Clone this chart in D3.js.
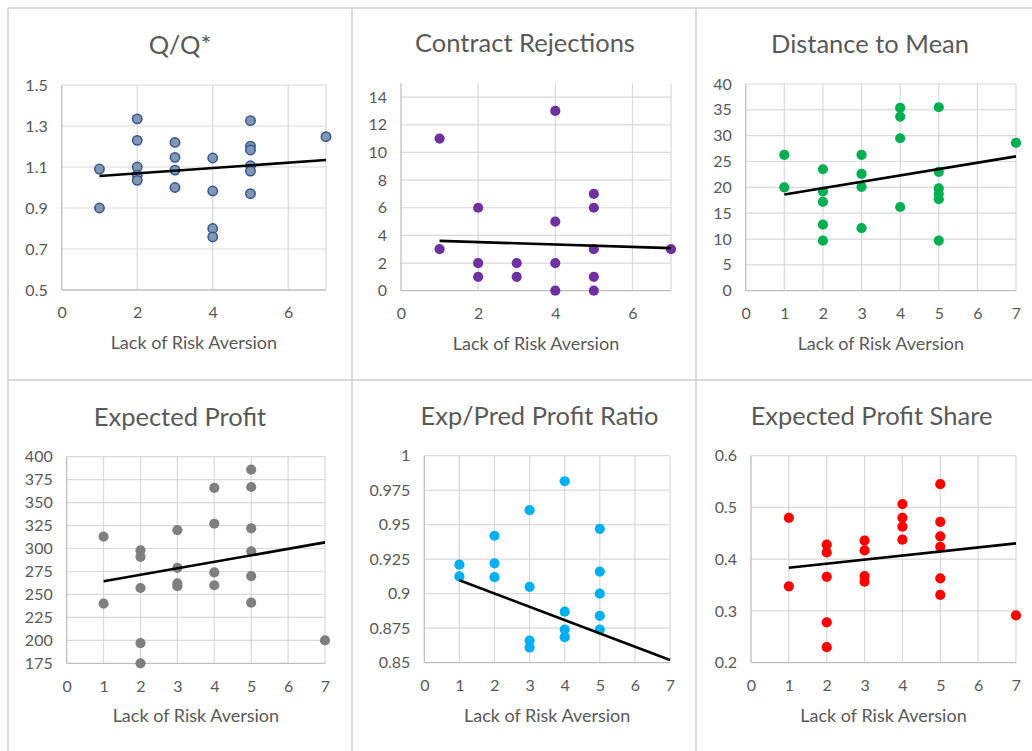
<!DOCTYPE html>
<html><head><meta charset="utf-8">
<script src="https://cdn.jsdelivr.net/npm/d3@7"></script>
<style>body{margin:0;background:#fff}svg{display:block}</style>
</head><body><svg id="c" width="1032" height="751"></svg>
<script>
// ---------- DATA ----------
const titles = ["Q/Q*", "Contract Rejections", "Distance to Mean", "Expected Profit", "Exp/Pred Profit Ratio", "Expected Profit Share"];
const xAxisTitle = "Lack of Risk Aversion";

const xQ  = [1, 1, 2, 2, 2, 2, 2, 3, 3, 3, 3, 4, 4, 4, 4, 5, 5, 5, 5, 5, 5, 7];
const yQ  = [1.09, 0.90, 1.335, 1.23, 1.10, 1.06, 1.035, 1.22, 1.147, 1.085, 1.0, 1.144, 0.983, 0.80, 0.759, 1.326, 1.202, 1.183, 1.106, 1.08, 0.97, 1.248];

const xCR = [1, 1, 2, 2, 2, 3, 3, 4, 4, 4, 4, 5, 5, 5, 5, 5, 7];
const yCR = [11, 3, 6, 2, 1, 2, 1, 13, 5, 2, 0, 7, 6, 3, 1, 0, 3];

const xDM = [1, 1, 2, 2, 2, 2, 2, 3, 3, 3, 3, 4, 4, 4, 4, 5, 5, 5, 5, 5, 5, 7];
const yDM = [26.3, 20.0, 23.5, 19.2, 17.2, 12.8, 9.7, 26.3, 22.6, 20.1, 12.1, 35.4, 33.7, 29.5, 16.2, 35.5, 23.0, 19.8, 18.7, 17.7, 9.7, 28.6];

const xEP = [1, 1, 2, 2, 2, 2, 2, 3, 3, 3, 3, 4, 4, 4, 4, 5, 5, 5, 5, 5, 5, 7];
const yEP = [313, 240, 298, 291, 257, 197, 175, 320, 279, 262, 259, 366, 327, 274, 260, 386, 367, 322, 297, 270, 241, 200];

const xPR = [1, 1, 2, 2, 2, 3, 3, 3, 3, 4, 4, 4, 4, 5, 5, 5, 5, 5];
const yPR = [0.921, 0.9125, 0.942, 0.922, 0.912, 0.9605, 0.905, 0.866, 0.861, 0.9815, 0.887, 0.874, 0.8685, 0.947, 0.916, 0.900, 0.884, 0.874];

const xPS = [1, 1, 2, 2, 2, 2, 2, 3, 3, 3, 3, 4, 4, 4, 4, 5, 5, 5, 5, 5, 5, 7];
const yPS = [0.48, 0.3475, 0.428, 0.413, 0.366, 0.278, 0.230, 0.436, 0.417, 0.3675, 0.3565, 0.5066, 0.48, 0.4628, 0.4377, 0.545, 0.472, 0.444, 0.424, 0.363, 0.331, 0.2915];

// trend lines (value at x = 1 and x = 7)
const trendX  = [1, 7];
const trendQ  = [1.056, 1.134];
const trendCR = [3.6, 3.08];
const trendDM = [18.6, 26.0];
const trendEP = [264.3, 306.7];
const trendPR = [0.9097, 0.852];
const trendPS = [0.3836, 0.4306];

// axes
const xTicksEven = [0, 2, 4, 6];
const xTicksAll  = [0, 1, 2, 3, 4, 5, 6, 7];
const yTicksQ  = [0.5, 0.7, 0.9, 1.1, 1.3, 1.5];
const yTicksCR = [0, 2, 4, 6, 8, 10, 12, 14];
const yTicksDM = [0, 5, 10, 15, 20, 25, 30, 35, 40];
const yTicksEP = [175, 200, 225, 250, 275, 300, 325, 350, 375, 400];
const yTicksPR = [0.85, 0.875, 0.9, 0.925, 0.95, 0.975, 1];
const yTicksPS = [0.2, 0.3, 0.4, 0.5, 0.6];
const yDomains = [[0.5, 1.5], [0, 15], [0, 40], [175, 400], [0.85, 1], [0.2, 0.6]];

// ---------- STYLE / LAYOUT ----------
const panels = [
  {x: xQ,  y: yQ,  tr: trendQ,  yt: yTicksQ,  xt: xTicksEven, fill: "#8497B0", stroke: "#2F5597", l: 61.7,  r: 326,  t: 85,    b: 290,   tx: 180},
  {x: xCR, y: yCR, tr: trendCR, yt: yTicksCR, xt: xTicksEven, fill: "#7030A0", stroke: null,      l: 401,   r: 671,  t: 83.3,  b: 290.7, tx: 525},
  {x: xDM, y: yDM, tr: trendDM, yt: yTicksDM, xt: xTicksAll,  fill: "#00B050", stroke: null,      l: 745.7, r: 1016, t: 84,    b: 290.7, tx: 870},
  {x: xEP, y: yEP, tr: trendEP, yt: yTicksEP, xt: xTicksAll,  fill: "#7F7F7F", stroke: null,      l: 66.7,  r: 325,  t: 456.7, b: 663.3, tx: 180},
  {x: xPR, y: yPR, tr: trendPR, yt: yTicksPR, xt: xTicksAll,  fill: "#00B0F0", stroke: null,      l: 424.3, r: 670,  t: 455.7, b: 662.7, tx: 539.5},
  {x: xPS, y: yPS, tr: trendPS, yt: yTicksPS, xt: xTicksAll,  fill: "#FF0000", stroke: null,      l: 751,   r: 1016, t: 455.7, b: 662.7, tx: 871.5}
];

const FONT = "Lato, 'Open Sans', sans-serif";
const TXT = "#595959";
const svg = d3.select("#c");

// panel borders
const border = svg.append("g").attr("stroke", "#d9d9d9").attr("stroke-width", 2).attr("fill", "none");
border.append("line").attr("x1", 8).attr("x2", 1032).attr("y1", 8).attr("y2", 8);
border.append("line").attr("x1", 8).attr("x2", 1032).attr("y1", 380).attr("y2", 380);
border.append("line").attr("x1", 8).attr("x2", 8).attr("y1", 8).attr("y2", 751);
border.append("line").attr("x1", 352).attr("x2", 352).attr("y1", 8).attr("y2", 751);
border.append("line").attr("x1", 696).attr("x2", 696).attr("y1", 8).attr("y2", 751);

panels.forEach((p, i) => {
  const g = svg.append("g");
  const xs = d3.scaleLinear().domain([0, 7]).range([p.l, p.r]);
  const ys = d3.scaleLinear().domain(yDomains[i]).range([p.b, p.t]);

  // horizontal gridlines
  g.append("g").selectAll("line").data(p.yt.filter(v => v !== yDomains[i][0])).join("line")
    .attr("x1", p.l).attr("x2", p.r).attr("y1", d => ys(d)).attr("y2", d => ys(d))
    .attr("stroke", "#d9d9d9").attr("stroke-width", 1.2);
  // vertical gridlines
  const vx = p.xt.filter(v => v !== 0);
  if (vx[vx.length - 1] !== 7) vx.push(7);
  g.append("g").selectAll("line").data(vx).join("line")
    .attr("x1", d => xs(d)).attr("x2", d => xs(d)).attr("y1", p.t).attr("y2", p.b)
    .attr("stroke", "#d9d9d9").attr("stroke-width", 1.2);
  // axis lines
  g.append("line").attr("x1", p.l).attr("x2", p.l).attr("y1", p.t).attr("y2", p.b).attr("stroke", "#bfbfbf").attr("stroke-width", 1.3);
  g.append("line").attr("x1", p.l).attr("x2", p.r).attr("y1", p.b).attr("y2", p.b).attr("stroke", "#bfbfbf").attr("stroke-width", 1.3);

  // y axis labels
  const ya = d3.axisLeft(ys).tickValues(p.yt).tickSize(0).tickPadding(14).tickFormat(d => String(d));
  const yg = g.append("g").attr("transform", `translate(${p.l},0)`).call(ya);
  yg.select(".domain").remove();
  yg.selectAll("text").attr("fill", TXT).style("font-family", FONT).style("font-size", "16px");

  // x axis labels
  const xa = d3.axisBottom(xs).tickValues(p.xt).tickSize(0).tickPadding(17).tickFormat(d => String(d));
  const xg = g.append("g").attr("transform", `translate(0,${p.b})`).call(xa);
  xg.select(".domain").remove();
  xg.selectAll("text").attr("fill", TXT).style("font-family", FONT).style("font-size", "16px");

  // points
  g.append("g").selectAll("circle").data(p.x.map((v, k) => [v, p.y[k]])).join("circle")
    .attr("cx", d => xs(d[0])).attr("cy", d => ys(d[1])).attr("r", p.stroke ? 4.7 : 5.1)
    .attr("fill", p.fill)
    .attr("stroke", p.stroke || "none").attr("stroke-width", p.stroke ? 1.5 : 0);

  // trend line
  g.append("line")
    .attr("x1", xs(trendX[0])).attr("y1", ys(p.tr[0]))
    .attr("x2", xs(trendX[1])).attr("y2", ys(p.tr[1]))
    .attr("stroke", "#000").attr("stroke-width", 2.6);

  // titles
  g.append("text").attr("x", p.tx).attr("y", p.t - 31).attr("text-anchor", "middle")
    .attr("fill", TXT).style("font-family", FONT).style("font-size", "25.5px").text(titles[i]);
  g.append("text").attr("x", (p.l + p.r) / 2).attr("y", p.b + 59).attr("text-anchor", "middle")
    .attr("fill", TXT).style("font-family", FONT).style("font-size", "18px").text(xAxisTitle);
});
</script></body></html>
